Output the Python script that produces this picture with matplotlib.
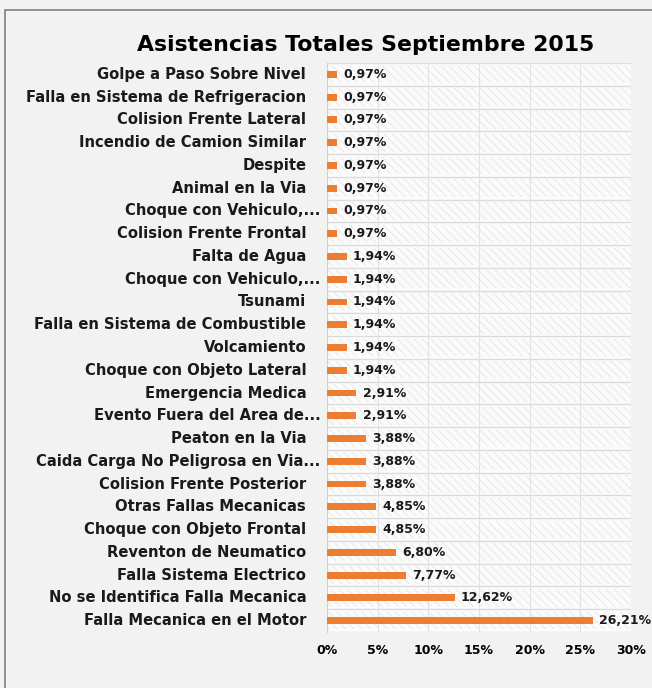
import numpy as np
import matplotlib.pyplot as plt
from matplotlib.patches import Rectangle
from matplotlib.transforms import offset_copy, blended_transform_factory

# -------------------------
# Data (bottom to top)
# -------------------------
causes = [
    "Falla Mecanica en el Motor",
    "No se Identifica Falla Mecanica",
    "Falla Sistema Electrico",
    "Reventon de Neumatico",
    "Choque con Objeto Frontal",
    "Otras Fallas Mecanicas",
    "Colision Frente Posterior",
    "Caida Carga No Peligrosa en Via...",
    "Peaton en la Via",
    "Evento Fuera del Area de...",
    "Emergencia Medica",
    "Choque con Objeto Lateral",
    "Volcamiento",
    "Falla en Sistema de Combustible",
    "Tsunami",
    "Choque con Vehiculo,...",
    "Falta de Agua",
    "Colision Frente Frontal",
    "Choque con Vehiculo,...",
    "Animal en la Via",
    "Despite",
    "Incendio de Camion Similar",
    "Colision Frente Lateral",
    "Falla en Sistema de Refrigeracion",
    "Golpe a Paso Sobre Nivel",
]
percent = [26.21, 12.62, 7.77, 6.80, 4.85, 4.85, 3.88, 3.88, 3.88, 2.91, 2.91,
           1.94, 1.94, 1.94, 1.94, 1.94, 1.94,
           0.97, 0.97, 0.97, 0.97, 0.97, 0.97, 0.97, 0.97]
xticks = [0, 5, 10, 15, 20, 25, 30]

plt.rcParams["font.family"] = ["DejaVu Sans"]
plt.rcParams["hatch.linewidth"] = 0.7

fig = plt.figure(figsize=(6.52, 6.88), dpi=100, facecolor="#f2f2f2")
fig.patches.append(Rectangle((5 / 652, -0.1), 1.0, (688 - 10) / 688 + 0.1,
                             transform=fig.transFigure, facecolor="none",
                             edgecolor="#7f7f7f", linewidth=1.2))

ax = fig.add_axes([327 / 652, 1 - 632 / 688, 304 / 652, 569 / 688])
ax.set_facecolor("#fbfbfb")

y = np.arange(len(causes))

# hatched background bands
ax.barh(y, [30] * len(y), height=0.78, color="none", edgecolor="#e8e8e8",
        hatch="\\\\\\\\", linewidth=0, zorder=1)
for b in np.arange(-0.5, len(y), 1.0):
    ax.axhline(b, color="#dcdcdc", linewidth=1, zorder=2)
for t in xticks[1:]:
    ax.axvline(t, color="#e2e2e2", linewidth=0.8, zorder=1.5)

ax.barh(y, percent, height=0.3, color="#ed7d31", zorder=3)

for yi, v in zip(y, percent):
    ax.text(v + 0.6, yi, f"{v:.2f}%".replace(".", ","), va="center", ha="left",
            fontsize=9, fontweight="bold", color="#1a1a1a", zorder=4)

# category labels (truncated ones sit closer to the axis)
trans = blended_transform_factory(ax.transAxes, ax.transData)
for yi, lab in zip(y, causes):
    dx = -4.5 if lab.endswith("...") else -15
    ax.text(0, yi, lab, transform=offset_copy(trans, fig=fig, x=dx, y=0, units="points"),
            ha="right", va="center", fontsize=10.6, fontweight="bold", color="#1a1a1a")

ax.set_xlim(0, 30)
ax.set_ylim(-0.5, len(y) - 0.5)
ax.set_xticks(xticks)
ax.set_xticklabels([f"{t}%" for t in xticks], fontsize=9, fontweight="bold")
ax.set_yticks([])
ax.tick_params(axis="x", length=0, pad=9)
for s in ["top", "right", "bottom"]:
    ax.spines[s].set_visible(False)
ax.spines["left"].set_color("#cfcfcf")

fig.text(366 / 652, 1 - 45 / 688, "Asistencias Totales Septiembre 2015",
         ha="center", va="center", fontsize=15.8, fontweight="bold")

plt.savefig("out.png", dpi=100, facecolor=fig.get_facecolor())
